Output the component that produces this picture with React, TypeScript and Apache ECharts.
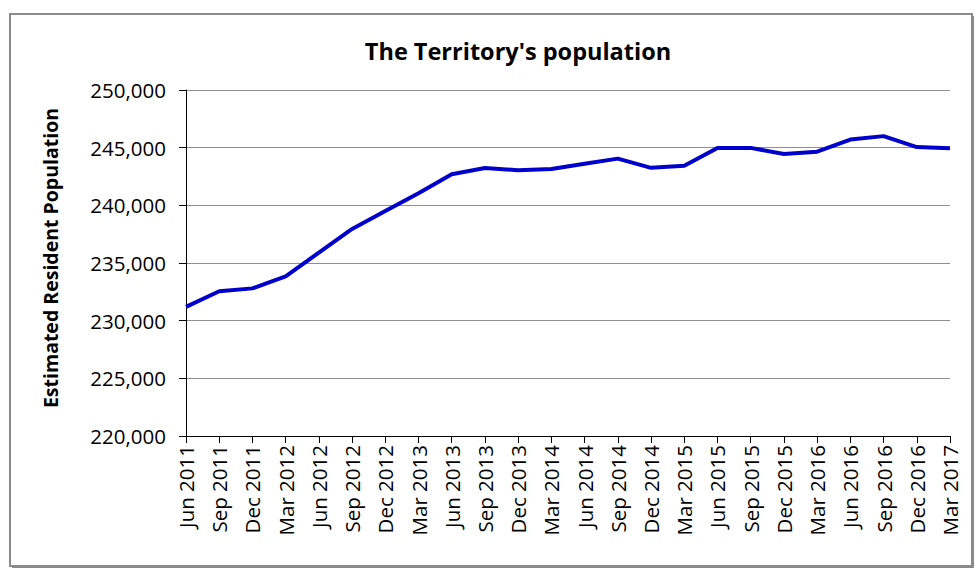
import React, { useEffect, useRef } from "react";
import * as echarts from "echarts";

const categories = [
  "Jun 2011", "Sep 2011", "Dec 2011", "Mar 2012", "Jun 2012", "Sep 2012",
  "Dec 2012", "Mar 2013", "Jun 2013", "Sep 2013", "Dec 2013", "Mar 2014",
  "Jun 2014", "Sep 2014", "Dec 2014", "Mar 2015", "Jun 2015", "Sep 2015",
  "Dec 2015", "Mar 2016", "Jun 2016", "Sep 2016", "Dec 2016", "Mar 2017",
];

const population = [
  231200, 232550, 232800, 233850, 235900, 237950,
  239500, 241050, 242700, 243230, 243050, 243150,
  243600, 244050, 243250, 243430, 244980, 244980,
  244450, 244650, 245700, 246000, 245050, 244950,
];

const yMin = 220000;
const yMax = 250000;
const yStep = 5000;

const titleText = "The Territory's population";
const yAxisTitle = "Estimated Resident Population";

const FONT = "'Open Sans', 'Noto Sans', sans-serif";

export default function App() {
  const ref = useRef<HTMLDivElement>(null);

  useEffect(() => {
    if (!ref.current) return;
    const chart = echarts.init(ref.current, undefined, { renderer: "svg" });
    chart.setOption({
      animation: false,
      backgroundColor: "#ffffff",
      grid: { left: 186, right: 27, top: 90, bottom: 138, containLabel: false },
      graphic: [
        {
          type: "rect",
          shape: { x: 10, y: 14, width: 962, height: 552 },
          style: { fill: "none", stroke: "#8a8a8a", lineWidth: 2 },
          shadowBlur: 0,
          z: -1,
        },
        {
          type: "line",
          shape: { x1: 12, y1: 567.5, x2: 973, y2: 567.5 },
          style: { stroke: "#8a8a8a", lineWidth: 1 },
        },
        {
          type: "line",
          shape: { x1: 973.5, y1: 16, x2: 973.5, y2: 568 },
          style: { stroke: "#8a8a8a", lineWidth: 1 },
        },
        {
          type: "text",
          x: 518,
          y: 51,
          style: {
            text: titleText,
            fontFamily: FONT,
            fontWeight: "bold",
            fontSize: 23.5,
            fill: "#000",
            textAlign: "center",
            textVerticalAlign: "middle",
          },
        },
        {
          type: "text",
          x: 50,
          y: 258,
          rotation: Math.PI / 2,
          style: {
            text: yAxisTitle,
            fontFamily: FONT,
            fontWeight: "bold",
            fontSize: 19.5,
            fill: "#000",
            textAlign: "center",
            textVerticalAlign: "middle",
          },
        },
      ],
      xAxis: {
        type: "category",
        data: categories,
        boundaryGap: false,
        axisLine: { show: true, lineStyle: { color: "#000", width: 1 } },
        axisTick: { show: true, inside: false, length: 7, alignWithLabel: true, interval: 0, lineStyle: { color: "#000" } },
        axisLabel: {
          rotate: 90,
          interval: 0,
          margin: 9,
          fontFamily: FONT,
          fontSize: 20.5,
          color: "#000",
        },
        splitLine: { show: false },
      },
      yAxis: {
        type: "value",
        min: yMin,
        max: yMax,
        interval: yStep,
        axisLine: { show: true, lineStyle: { color: "#000", width: 1 } },
        axisTick: { show: true, inside: false, length: 7, lineStyle: { color: "#000" } },
        axisLabel: {
          margin: 20,
          fontFamily: FONT,
          fontSize: 20.5,
          color: "#000",
          formatter: (v: number) => v.toLocaleString("en-US"),
        },
        splitLine: { show: true, lineStyle: { color: "#8f8f8f", width: 1 } },
      },
      series: [
        {
          type: "line",
          data: population,
          symbol: "none",
          lineStyle: { color: "#0000cc", width: 4 },
          itemStyle: { color: "#0000cc" },
        },
      ],
    });
    return () => chart.dispose();
  }, []);

  return (
    <div
      ref={ref}
      style={{ position: "absolute", left: 0, top: 0, width: 977, height: 574 }}
    />
  );
}
